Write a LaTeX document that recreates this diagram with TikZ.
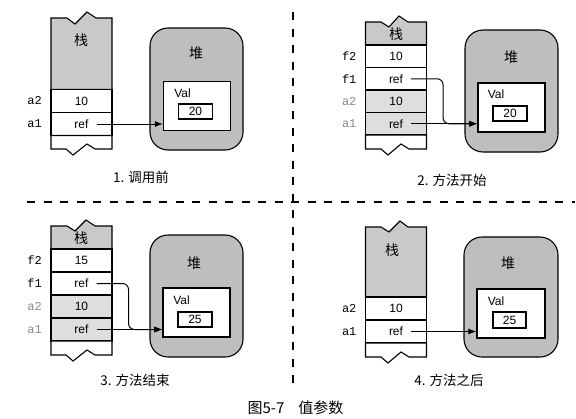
\documentclass[tikz,border=0pt]{standalone}
\usepackage{fontspec}
\setsansfont{Liberation Sans}
\setmonofont{Liberation Mono}
\newfontfamily\cjk{Noto Sans CJK SC}
\usepackage{tikz}
\usetikzlibrary{arrows.meta,positioning,calc}
\definecolor{stackgray}{HTML}{C9C9C9}
\definecolor{heapgray}{HTML}{BEBEBE}
\definecolor{paramgray}{HTML}{DEDEDE}
\definecolor{labelgray}{HTML}{8A8A8A}
\newcommand{\cellfont}{\sffamily\fontsize{12}{14}\selectfont}
\newcommand{\varfont}{\ttfamily\fontsize{12}{14}\selectfont}
\newcommand{\zhfont}{\cjk\fontsize{14}{16}\selectfont}
\newcommand{\capfont}{\cjk\fontsize{13.5}{16}\selectfont}
\newcommand{\figfont}{\cjk\fontsize{15}{18}\selectfont}

\begin{document}
\begin{tikzpicture}
[x=1pt, y=-1pt, line width=1.1pt,
cell/.style={draw, fill=white, minimum width=61pt, minimum height=23pt, inner sep=0pt, font=\cellfont},
argcell/.style={cell, fill=paramgray},
piece/.style={draw, fill=stackgray},
endpiece/.style={draw, fill=white},
heap/.style={draw, fill=heapgray, rounded corners=18pt, minimum width=93pt, minimum height=122pt},
valbox/.style={draw, fill=white, minimum width=67pt, minimum height=49pt},
numbox/.style={draw, fill=white, minimum width=34pt, minimum height=15pt, inner sep=0pt, font=\cellfont},
varname/.style={font=\varfont, inner sep=0pt},
argname/.style={varname, text=labelgray},
ptr/.style={-{Latex[length=8pt,width=6pt]}, line width=1pt},
captext/.style={font=\capfont},
divider/.style={dash pattern=on 8pt off 8.5pt, line width=1.8pt}]
\useasboundingbox (0,0) rectangle (576,418);

% dividers
\draw[divider] (27,202) -- (575,202);
\draw[divider] (293,12) -- (293,385);

% 1. before the call
\draw[piece] (51,89.5) -- (51,18) -- (67,18) -- (75,24) -- (87,12) -- (96,18) -- (112,18) -- (112,89.5) -- cycle;
\node (s1stack) at (81,40) [font=\zhfont] {栈};
\node (s1a2) at (81.5,101) [cell] {10};
\node (s1a1) at (81.5,124) [cell] {ref};
\draw[endpiece] (51,135.5) -- (51,149) -- (66,149) -- (73,155) -- (87,144) -- (95,149) -- (112,149) -- (112,135.5) -- cycle;
\node (s1n2) [varname, left=8pt of s1a2] {a2};
\node (s1n1) [varname, left=8pt of s1a1] {a1};
\node (s1heap) at (196.5,89) [heap] {};
\node (s1hlab) at (196,53) [font=\zhfont] {堆};
\node (s1val) at (197,106) [valbox] {};
\node (s1vlab) at (182.5,93) [font=\cellfont] {Val};
\node (s1num) at (195.5,111.5) [numbox] {20};
\draw[ptr] ([xshift=15pt]s1a1.center) -- (s1val.west |- s1a1);
\node (s1cap) at (141,177) [captext] {1. 调用前};

% 2. method starts
\draw[piece] (365.5,45) -- (365.5,22) -- (381,22) -- (389,27) -- (399,16) -- (408,22) -- (426.5,22) -- (426.5,45) -- cycle;
\node (s2stack) at (396,34) [font=\zhfont] {栈};
\node (s2f2) at (396,56.25) [cell, minimum height=22.5pt] {10};
\node (s2f1) at (396,78.75) [cell, minimum height=22.5pt] {ref};
\node (s2a2) at (396,101.25) [argcell, minimum height=22.5pt] {10};
\node (s2a1) at (396,123.75) [argcell, minimum height=22.5pt] {ref};
\draw[endpiece] (365.5,135) -- (365.5,149) -- (381,149) -- (388,155) -- (401,144) -- (409,149) -- (426.5,149) -- (426.5,135) -- cycle;
\node (s2n4) [varname, left=8pt of s2f2] {f2};
\node (s2n3) [varname, left=8pt of s2f1] {f1};
\node (s2n2) [argname, left=8pt of s2a2] {a2};
\node (s2n1) [argname, left=8pt of s2a1] {a1};
\node (s2heap) at (511.5,91) [heap] {};
\node (s2hlab) at (511,57) [font=\zhfont] {堆};
\node (s2val) at (511.5,107.5) [valbox] {};
\node (s2vlab) at (496,94) [font=\cellfont] {Val};
\node (s2num) at (510,113.5) [numbox] {20};
\draw[ptr] ([xshift=15pt]s2a1.center) -- (s2val.west |- s2a1);
\draw[ptr, rounded corners=6pt] ([xshift=15pt]s2f1.center) -- ([xshift=16pt]s2f1.east) |- (s2val.west |- s2a1);
\node (s2cap) at (452,180) [captext] {2. 方法开始};

% 3. method ends
\draw[piece] (51,249) -- (51,226) -- (67,226) -- (75,231) -- (86,220) -- (95,226) -- (112,226) -- (112,249) -- cycle;
\node (s3stack) at (81,238) [font=\zhfont] {栈};
\node (s3f2) at (81.5,260.5) [cell] {15};
\node (s3f1) at (81.5,283.5) [cell] {ref};
\node (s3a2) at (81.5,306.5) [argcell] {10};
\node (s3a1) at (81.5,329.5) [argcell] {ref};
\draw[endpiece] (51,341) -- (51,355) -- (66,355) -- (73,361) -- (87,350) -- (95,355) -- (112,355) -- (112,341) -- cycle;
\node (s3n4) [varname, left=8pt of s3f2] {f2};
\node (s3n3) [varname, left=8pt of s3f1] {f1};
\node (s3n2) [argname, left=8pt of s3a2] {a2};
\node (s3n1) [argname, left=8pt of s3a1] {a1};
\node (s3heap) at (196.5,296) [heap] {};
\node (s3hlab) at (194,263) [font=\zhfont] {堆};
\node (s3val) at (196.5,312.5) [valbox] {};
\node (s3vlab) at (181.5,300) [font=\cellfont] {Val};
\node (s3num) at (195,319.5) [numbox] {25};
\draw[ptr] ([xshift=15pt]s3a1.center) -- (s3val.west |- s3a1);
\draw[ptr, rounded corners=6pt] ([xshift=15pt]s3f1.center) -- ([xshift=16pt]s3f1.east) |- (s3val.west |- s3a1);
\node (s3cap) at (135,380) [captext] {3. 方法结束};

% 4. after the method
\draw[piece] (365.5,297) -- (365.5,227) -- (381,227) -- (389,232) -- (400,221) -- (408,227) -- (426.5,227) -- (426.5,297) -- cycle;
\node (s4stack) at (392,250) [font=\zhfont] {栈};
\node (s4a2) at (396,308.5) [cell] {10};
\node (s4a1) at (396,331.5) [cell] {ref};
\draw[endpiece] (365.5,343) -- (365.5,357) -- (381,357) -- (388,363) -- (401,352) -- (409,357) -- (426.5,357) -- (426.5,343) -- cycle;
\node (s4n2) [varname, left=8pt of s4a2] {a2};
\node (s4n1) [varname, left=8pt of s4a1] {a1};
\node (s4heap) at (511,297) [heap, minimum width=94pt, minimum height=120pt] {};
\node (s4hlab) at (508,263) [font=\zhfont] {堆};
\node (s4val) at (511,313.5) [valbox, minimum width=68pt] {};
\node (s4vlab) at (496,301) [font=\cellfont] {Val};
\node (s4num) at (509.5,320) [numbox, minimum width=33pt, minimum height=16pt] {25};
\draw[ptr] ([xshift=15pt]s4a1.center) -- (s4val.west |- s4a1);
\node (s4cap) at (449,380) [captext] {4. 方法之后};

\node (figcap) at (295.5,408) [font=\figfont] {图5-7\hspace{14pt}值参数};

\end{tikzpicture}
\end{document}
